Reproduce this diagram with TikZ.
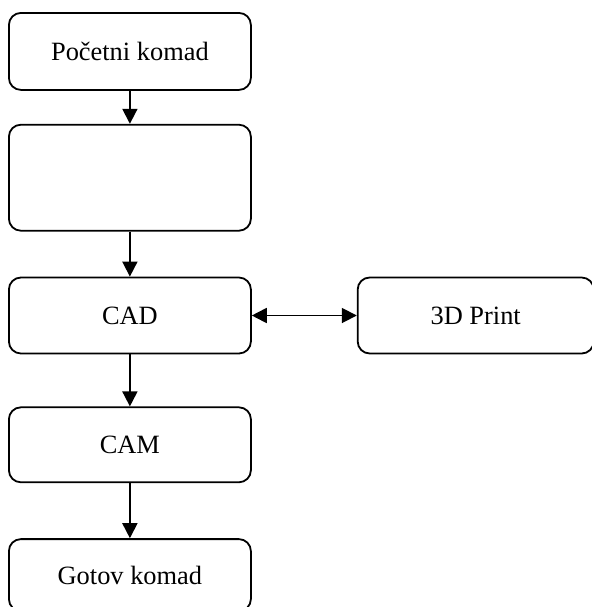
\documentclass[tikz,border=0pt]{standalone}
\usepackage{fontspec}
\setmainfont{Liberation Serif}
\usetikzlibrary{positioning,arrows.meta}

\begin{document}
\begin{tikzpicture}[
      font=\fontsize{13.2}{16}\selectfont,
      stage/.style={draw,rounded corners=6pt,line width=0.9pt,minimum width=121pt,inner sep=0pt},
      flow/.style={line width=0.9pt,-{Triangle[length=7.5pt,width=7.5pt]}},
      twoway/.style={line width=0.9pt,{Triangle[length=7.5pt,width=7.5pt]}-{Triangle[length=7.5pt,width=7.5pt]}}
    ]
    \useasboundingbox (0,0) rectangle (296pt,-303.5pt);
    \node (start) [stage,minimum height=38.5pt,anchor=north west] at (4pt,-6pt) {Početni komad};
    \node (blank) [stage,minimum height=53pt,below=16.5pt of start] {};
    \node (cad) [stage,minimum height=38pt,below=22.5pt of blank] {CAD};
    \node (print) [stage,minimum height=38pt,minimum width=118pt,right=52.5pt of cad] {3D Print};
    \node (cam) [stage,minimum height=37.5pt,below=26pt of cad] {CAM};
    \node (done) [stage,minimum height=36pt,below=27.5pt of cam] {Gotov komad};
    \draw[flow] (start) -- (blank);
    \draw[flow] (blank) -- (cad);
    \draw[flow] (cad) -- (cam);
    \draw[flow] (cam) -- (done);
    \draw[twoway] (cad) -- (print);
  \end{tikzpicture}
\end{document}
